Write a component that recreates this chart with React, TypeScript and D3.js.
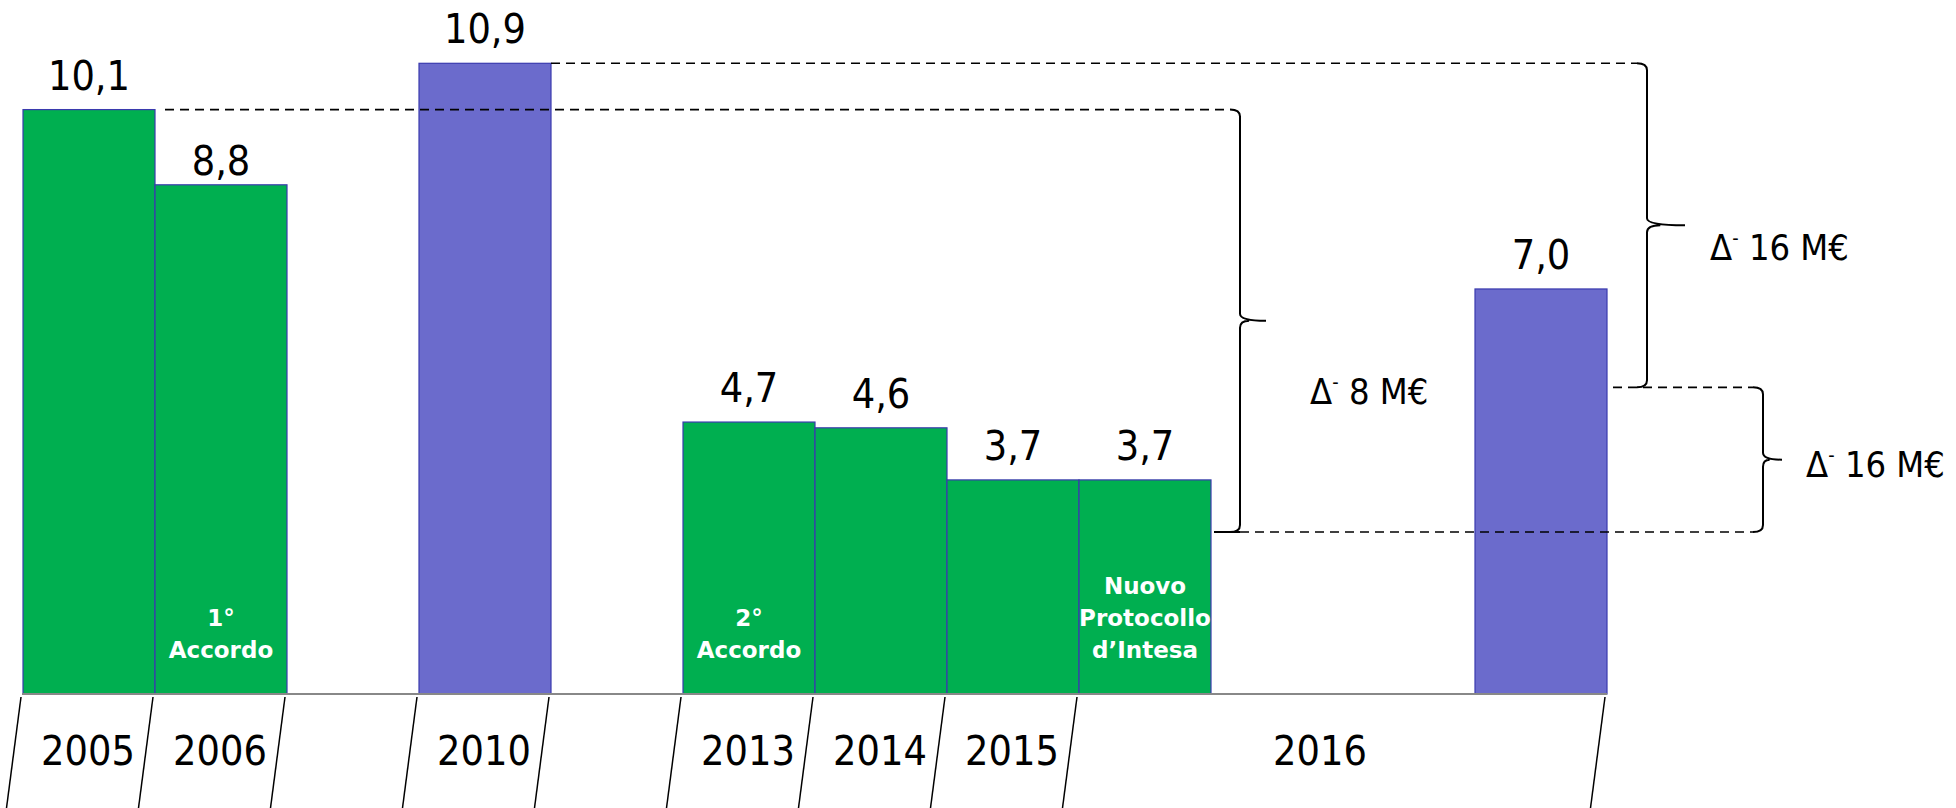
import React from 'react';
import * as d3 from 'd3';

const WIDTH = 1956;
const HEIGHT = 808;

// slot order along the x axis (gaps are empty slots)
const slots = ['2005', '2006', 'g1', '2010', 'g2', '2013', '2014', '2015', '2016a', 'g3', 'g4', '2016b'];

const barSlots = ['2005', '2006', '2010', '2013', '2014', '2015', '2016a', '2016b'];
const barValues = [10.1, 8.8, 10.9, 4.7, 4.6, 3.7, 3.7, 7.0];
const barKinds = ['green', 'green', 'purple', 'green', 'green', 'green', 'green', 'purple'];
const valueLabels = ['10,1', '8,8', '10,9', '4,7', '4,6', '3,7', '3,7', '7,0'];
const innerLabels = [[], ['1°', 'Accordo'], [], ['2°', 'Accordo'], [], [], ['Nuovo', 'Protocollo', 'd’Intesa'], []];

const yearLabels = ['2005', '2006', '2010', '2013', '2014', '2015', '2016'];
const yearFrom = ['2005', '2006', '2010', '2013', '2014', '2015', '2016a'];
const yearTo = ['2005', '2006', '2010', '2013', '2014', '2015', '2016b'];

// separators sit at these slot boundaries (index of the slot they start)
const separatorAt = [0, 1, 2, 3, 4, 5, 6, 7, 8, 12];

// reference levels for the comparison braces
const braceTop = [10.1, 10.9, 5.3];
const braceBottom = [2.8, 5.3, 2.8];
const braceTexts = ['8 M€', '16 M€', '16 M€'];

const colors = { green: '#00AF50', purple: '#6B6BCC' };
const FONT = "'DejaVu Sans Condensed', 'DejaVu Sans', sans-serif";

const bracePath = (x, y1, y2, tip, r = 7, lead = 10) => {
  const ym = (y1 + y2) / 2;
  return [
    `M${x - lead},${y1}`,
    `Q${x},${y1} ${x},${y1 + r}`,
    `L${x},${ym - r}`,
    `Q${x},${ym} ${x + tip},${ym}`,
    `M${x},${ym + r}`,
    `Q${x},${ym} ${x + tip * 0.35},${ym}`,
    `M${x},${ym + r}`,
    `L${x},${y2 - r}`,
    `Q${x},${y2} ${x - lead},${y2}`,
  ].join(' ');
};

const Delta = ({ x, y, text, size = 36 }) => (
  <text x={x} y={y} fontFamily={FONT} fontStretch="condensed" fontSize={size} fill="#000">
    <tspan>Δ</tspan>
    <tspan fontSize={size * 0.55} dy={-size * 0.42}>-</tspan>
    <tspan dy={size * 0.42}>{' ' + text}</tspan>
  </text>
);

export default function App() {
  const x = d3.scaleBand().domain(slots).range([23, 1607]).padding(0);
  const y = d3.scaleLinear().domain([0, 10.9]).range([694, 63.3]);
  const bw = x.bandwidth();
  const base = y(0);

  const slotLeft = (i) => (i < slots.length ? x(slots[i]) : x(slots[slots.length - 1]) + bw);

  const right = (slot) => x(slot) + bw;

  // brace positions
  const braceX = [right('2016a') + 29, right('2016b') + 40, right('2016b') + 156];
  const braceTip = [26, 38, 19];

  const dashes = [
    { y: 10.1, x1: right('2005') + 10, x2: braceX[0] - 10 },
    { y: 10.9, x1: right('2010'), x2: braceX[1] - 10 },
    { y: 5.3, x1: right('2016b') + 6, x2: braceX[2] - 10 },
    { y: 2.8, x1: braceX[0], x2: braceX[2] - 10 },
  ];

  return (
    <svg width={WIDTH} height={HEIGHT} style={{ position: 'absolute', left: 0, top: 0, background: '#fff' }}>
      {barValues.map((v, i) => (
        <rect
          key={barSlots[i]}
          x={x(barSlots[i])}
          y={y(v)}
          width={bw}
          height={base - y(v)}
          fill={colors[barKinds[i]]}
          stroke="#3A3AAE"
          strokeWidth={1.2}
        />
      ))}

      {barValues.map((v, i) => (
        <text
          key={'v' + i}
          x={x(barSlots[i]) + bw / 2}
          y={y(v) - (barSlots[i] === '2006' ? 10 : 20)}
          textAnchor="middle"
          fontFamily={FONT}
          fontStretch="condensed"
          fontSize={41}
          fill="#000"
        >
          {valueLabels[i]}
        </text>
      ))}

      {innerLabels.map((lines, i) =>
        lines.map((t, j) => (
          <text
            key={'in' + i + j}
            x={x(barSlots[i]) + bw / 2}
            y={658 - (lines.length - 1 - j) * 32}
            textAnchor="middle"
            fontFamily="'DejaVu Sans', sans-serif"
            fontWeight="bold"
            fontSize={23}
            fill="#fff"
          >
            {t}
          </text>
        ))
      )}

      {/* dashed reference lines */}
      {dashes.map((d, i) => (
        <line
          key={'d' + i}
          x1={d.x1}
          x2={d.x2}
          y1={y(d.y)}
          y2={y(d.y)}
          stroke="#000"
          strokeWidth={1.6}
          strokeDasharray="9 6"
        />
      ))}
      <line x1={right('2016a') + 3} x2={braceX[0]} y1={y(2.8)} y2={y(2.8)} stroke="#000" strokeWidth={2} />

      {braceTop.map((t, i) => (
        <path
          key={'b' + i}
          d={bracePath(braceX[i], y(t), y(braceBottom[i]), braceTip[i])}
          fill="none"
          stroke="#000"
          strokeWidth={2}
        />
      ))}

      <Delta x={1310} y={404} text={braceTexts[0]} />
      <Delta x={1710} y={260} text={braceTexts[1]} />
      <Delta x={1806} y={477} text={braceTexts[2]} />

      {/* base line */}
      <line x1={22} x2={1607} y1={base} y2={base} stroke="#888" strokeWidth={2} />

      {/* slanted separators under the axis */}
      {separatorAt.map((s) => {
        const sx = slotLeft(s) - 2;
        return <line key={'s' + s} x1={sx} y1={base + 3} x2={sx - 14.5} y2={HEIGHT} stroke="#000" strokeWidth={1.5} />;
      })}

      {yearLabels.map((lab, i) => {
        const x0 = x(yearFrom[i]);
        const x1 = x(yearTo[i]) + bw;
        const cx = (x0 + x1) / 2 - (lab === '2016' ? 23 : 1);
        return (
          <text
            key={'y' + i}
            x={cx}
            y={765}
            textAnchor="middle"
            fontFamily={FONT}
            fontStretch="condensed"
            fontSize={41}
            fill="#000"
          >
            {lab}
          </text>
        );
      })}
    </svg>
  );
}
